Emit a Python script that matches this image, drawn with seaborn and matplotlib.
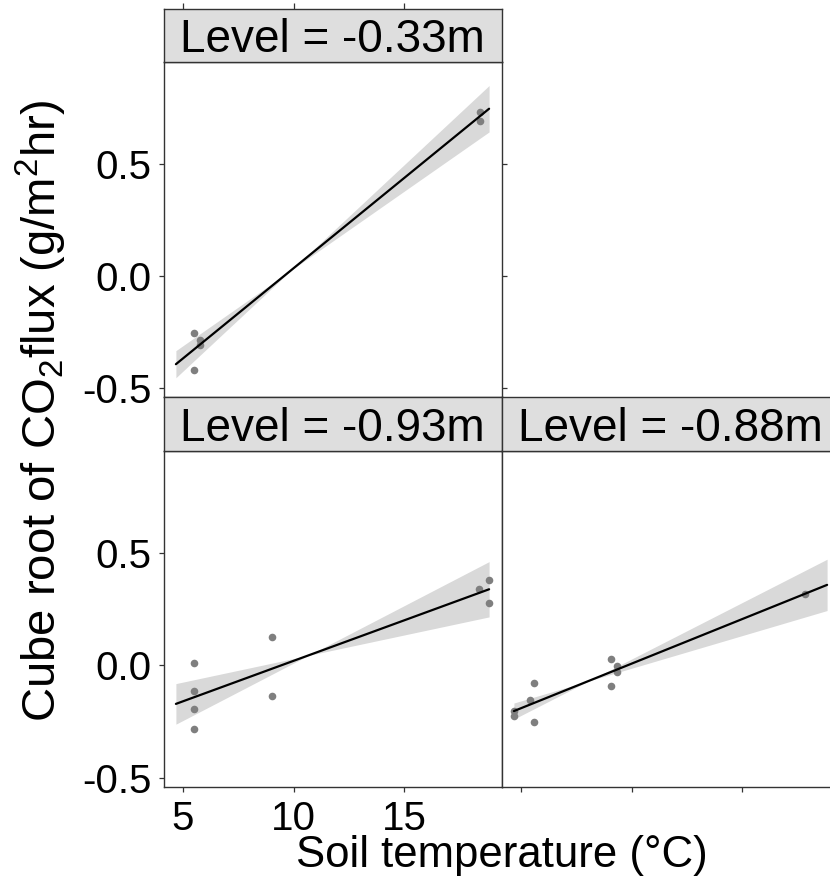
import numpy as np
import pandas as pd
import seaborn as sns
import matplotlib.pyplot as plt

# values
levels = ["-0.33m", "-0.93m", "-0.88m"]
temp_033 = [5.50, 5.80, 5.80, 5.50, 18.41, 18.41]
flux_033 = [-0.253, -0.285, -0.307, -0.419, 0.730, 0.690]
temp_093 = [5.50, 5.50, 5.50, 5.50, 9.02, 9.02, 18.37, 18.83, 18.83]
flux_093 = [0.010, -0.114, -0.196, -0.282, 0.125, -0.137, 0.338, 0.378, 0.277]
temp_088 = [4.69, 4.69, 5.41, 5.60, 5.60, 9.09, 9.34, 9.34, 9.09, 17.81]
flux_088 = [-0.203, -0.226, -0.156, -0.077, -0.252, 0.030, -0.003, -0.028, -0.092, 0.315]
x_ticks = [5, 10, 15]
y_ticks = [-0.5, 0.0, 0.5]
y_tick_labels = ["-0.5", "0.0", "0.5"]

df = pd.DataFrame({
    "level": [levels[0]] * len(temp_033) + [levels[1]] * len(temp_093) + [levels[2]] * len(temp_088),
    "temp": temp_033 + temp_093 + temp_088,
    "flux": flux_033 + flux_093 + flux_088,
})

sns.set_style("ticks")
plt.rcParams["font.family"] = ["Liberation Sans", "DejaVu Sans"]
plt.rcParams["mathtext.fontset"] = "custom"
plt.rcParams["mathtext.rm"] = "Liberation Sans"
plt.rcParams["mathtext.it"] = "Liberation Sans:italic"
plt.rcParams["axes.unicode_minus"] = False
plt.rcParams["text.color"] = "black"

W, H = 830, 881
fig = plt.figure(figsize=(W / 100, H / 100), dpi=100)


def box(x0, y0, x1, y1):
    return [x0 / W, 1 - y1 / H, (x1 - x0) / W, (y1 - y0) / H]


def t975(dof):
    try:
        from scipy import stats
        return stats.t.ppf(0.975, dof)
    except ImportError:
        table = {4: 2.776, 5: 2.571, 6: 2.447, 7: 2.365, 8: 2.306, 9: 2.262, 10: 2.228}
        return table.get(dof, 1.96)


def slope_band(x, y, grid):
    # band from the slope uncertainty of a least squares fit (pinches at mean x)
    x = np.asarray(x)
    y = np.asarray(y)
    n = len(x)
    b, a = np.polyfit(x, y, 1)
    resid = y - (a + b * x)
    s = np.sqrt(np.sum(resid ** 2) / (n - 2))
    sxx = np.sum((x - x.mean()) ** 2)
    half = t975(n - 2) * s / np.sqrt(sxx) * np.abs(grid - x.mean())
    fit = a + b * grid
    return fit - half, fit + half


# panel / strip positions in pixels (left, top, right, bottom)
layout = {
    "-0.33m": ((163.5, 62, 501.5, 396.7), (163.5, 9.3, 501.5, 62)),
    "-0.93m": ((163.5, 451, 501.5, 786.5), (163.5, 397, 501.5, 451)),
    "-0.88m": ((501.5, 451, 839.5, 786.5), (501.5, 397, 839.5, 451)),
}

xlim = (4.13, 19.39)
ylim = (-0.538, 0.952)
x_full = (df["temp"].min(), df["temp"].max())
edge = "#333333"
tick_fs = 29
grey_pt = "#7f7f7f"

for lev in levels:
    pbox, sbox = layout[lev]
    ax = fig.add_axes(box(*pbox))
    sub = df[df["level"] == lev]
    grid = np.linspace(x_full[0], x_full[1], 200)
    lo, hi = slope_band(sub["temp"], sub["flux"], grid)
    ax.fill_between(grid, lo, hi, color="#d9d9d9", lw=0, zorder=1)
    # line spans the range of all data, like a fullrange smooth
    ax.set_xlim(x_full)
    sns.regplot(data=sub, x="temp", y="flux", ax=ax, truncate=False, ci=None, color="black",
                scatter_kws={"color": grey_pt, "s": 30, "alpha": 1, "linewidths": 0, "zorder": 2},
                line_kws={"lw": 1.6, "zorder": 3})
    ax.set_xlim(xlim)
    ax.set_ylim(ylim)
    ax.set_xlabel("")
    ax.set_ylabel("")
    for sp in ax.spines.values():
        sp.set_visible(True)
        sp.set_color(edge)
        sp.set_linewidth(1.0)
    ax.set_xticks(x_ticks)
    ax.set_yticks(y_ticks)
    ax.tick_params(length=3.8, width=0.9, color=edge, labelsize=tick_fs, labelcolor="black")
    ax.tick_params(axis="y", pad=5)
    ax.tick_params(axis="x", pad=6)
    if lev == "-0.33m":
        ax.set_yticklabels(y_tick_labels)
        ax.tick_params(axis="x", bottom=False, labelbottom=False)
        ax.tick_params(axis="y", right=True)
    elif lev == "-0.93m":
        ax.set_yticklabels(y_tick_labels)
        ax.set_xticklabels([str(t) for t in x_ticks])
    else:
        ax.tick_params(axis="y", left=False, labelleft=False)
        ax.tick_params(axis="x", labelbottom=False)

    # facet strip
    sax = fig.add_axes(box(*sbox))
    sax.set_facecolor("#dedede")
    sax.set_xlim(xlim)
    sax.set_ylim(0, 1)
    for sp in sax.spines.values():
        sp.set_color(edge)
        sp.set_linewidth(1.0)
    sax.set_yticks([])
    if lev == "-0.33m":
        sax.set_xticks(x_ticks)
        sax.tick_params(axis="x", bottom=False, labelbottom=False, top=True,
                        length=4.5, width=0.9, color=edge)
        base = 0.195
    else:
        sax.set_xticks([])
        base = 0.185
    sax.text(0.5, base, "Level = " + lev, transform=sax.transAxes,
             ha="center", va="baseline", fontsize=33, color="black")

fig.text(501.5 / W, 13.7 / H, "Soil temperature (°C)", ha="center", va="baseline",
         fontsize=31.5, color="black")
fig.text(56.7 / W, 1 - 411 / H, "Cube root of CO$_2$flux (g/m$^2$hr)", rotation=90,
         rotation_mode="anchor", ha="center", va="baseline", fontsize=34, color="black")

fig.savefig("out.png", dpi=100)
